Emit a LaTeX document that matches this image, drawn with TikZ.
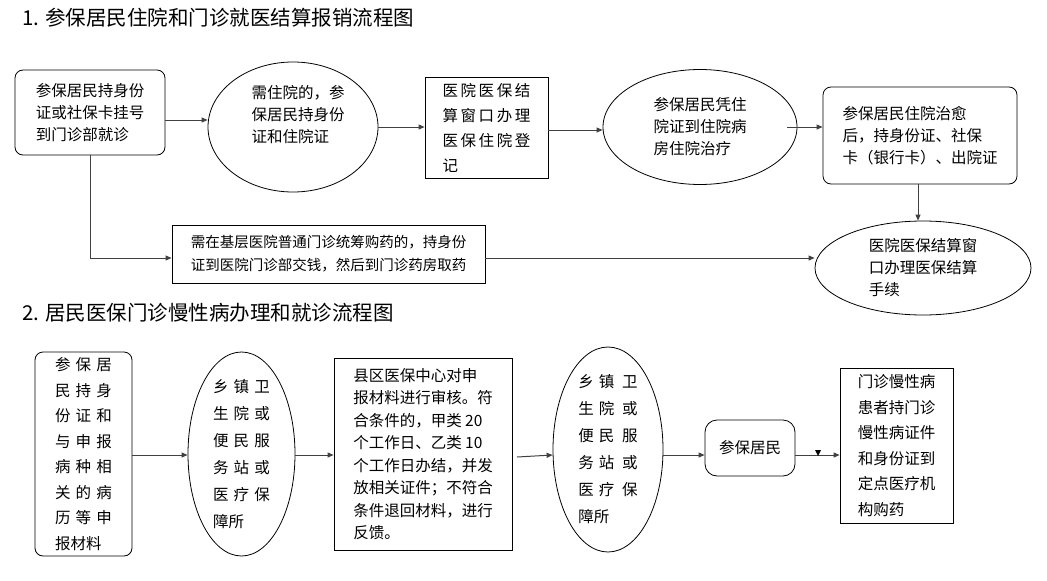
\documentclass[tikz,border=0pt]{standalone}
\usepackage{fontspec}
\setmainfont{Noto Sans CJK SC}
\usetikzlibrary{shapes.geometric,arrows.meta}
\begin{document}
\begin{tikzpicture}[x=1pt,y=-1pt,
 txt/.style={font=\fontsize{15.5}{22}\selectfont,align=left,inner sep=0},
 rbox/.style={draw,rounded corners=8pt,line width=0.8pt},
 sbox/.style={draw,line width=0.8pt},
 ell/.style={draw,ellipse,line width=0.8pt},
 arr/.style={-{Triangle[length=6pt,width=5pt]},line width=1pt,draw=black!75}]
\useasboundingbox (0,0) rectangle (1047,581);
\node[anchor=west,font=\fontsize{20.5}{22}\selectfont,inner sep=0] (t1) at (22,18) {1. 参保居民住院和门诊就医结算报销流程图};
\node[anchor=west,font=\fontsize{20.5}{22}\selectfont,inner sep=0] (t2) at (22,313) {2. 居民医保门诊慢性病办理和就诊流程图};
% row 1
\node[rbox,minimum width=150,minimum height=85] (A) at (90,112.5) {};
\node[txt] at (A) {参保居民持身份\\证或社保卡挂号\\到门诊部就诊};
\node[ell,minimum width=170,minimum height=130] (B) at (293,127) {};
\node[txt] at (298,115) {需住院的，参\\保居民持身份\\证和住院证};
\node[sbox,minimum width=123,minimum height=101] (C) at (486.5,127.5) {};
\node[txt,font=\fontsize{15.5}{25}\selectfont] at (C) {医\,院\,医\,保\,结\\算\,窗\,口\,办\,理\\医\,保\,住\,院\,登\\记};
\node[ell,minimum width=194,minimum height=115] (D) at (700,127) {};
\node[txt] at (D) {参保居民凭住\\院证到住院病\\房住院治疗};
\node[rbox,minimum width=194,minimum height=97] (E) at (920,135.5) {};
\node[txt] at (E) {参保居民住院治愈\\后，持身份证、社保\\卡（银行卡）、出院证};
\node[ell,minimum width=216,minimum height=94] (F) at (923,268) {};
\node[txt] at (F) {医院医保结算窗\\口办理医保结算\\手续};
\node[sbox,minimum width=313,minimum height=58] (G) at (328.5,254) {};
\node[txt,font=\fontsize{14.5}{23}\selectfont] at (G) {需在基层医院普通门诊统筹购药的，持身份\\证到医院门诊部交钱，然后到门诊药房取药};
\coordinate (a1) at (90,258);
\draw[arr] (A.east|-0,120) -- (B.west|-0,120);
\draw[arr] (378,127) -- (C.west|-0,127);
\draw[arr] (C.east|-0,130) -- (D.west|-0,130);
\draw[arr] (787,127) -- (E.west|-0,127);
\draw[arr] (918,184) -- (F.north-|918,0);
\draw[arr] (A.south-|a1) -- (a1) -- (G.west|-a1);
\draw[arr] (G.east|-a1) -- (F.west|-a1);
% row 2
\node[rbox,minimum width=97,minimum height=204] (H) at (83.5,454) {};
\node[txt,font=\fontsize{15.5}{25.5}\selectfont] at (H) {参\,\,保\,\,居\\民\,\,持\,\,身\\份\,\,证\,\,和\\与\,\,申\,\,报\\病\,\,种\,\,相\\关\,\,的\,\,病\\历\,\,等\,\,申\\报材料};
\node[ell,minimum width=107,minimum height=204] (I) at (241.5,454) {};
\node[txt,font=\fontsize{15.5}{27}\selectfont] at (I) {乡\,\,镇\,\,卫\\生\,\,院\,\,或\\便\,\,民\,\,服\\务\,\,站\,\,或\\医\,\,疗\,\,保\\障所};
\node[sbox,minimum width=178,minimum height=192] (J) at (423,454) {};
\node[txt,font=\fontsize{15.5}{22.5}\selectfont] at (J) {县区医保中心对申\\报材料进行审核。符\\合条件的，甲类 20\\个工作日、乙类 10\\个工作日办结，并发\\放相关证件；不符合\\条件退回材料，进行\\反馈。};
\node[ell,minimum width=110,minimum height=205] (K) at (608,449.5) {};
\node[txt,font=\fontsize{15.5}{27}\selectfont] at (K) {乡\,\,镇\,\,\,卫\\生\,\,院\,\,\,或\\便\,\,民\,\,\,服\\务\,\,站\,\,\,或\\医\,\,疗\,\,\,保\\障所};
\node[rbox,rounded corners=12pt,minimum width=90,minimum height=56] (L) at (750,448) {};
\node[txt] at (L) {参保居民};
\node[sbox,minimum width=113,minimum height=155] (M) at (896.5,445.5) {};
\node[txt,font=\fontsize{15.5}{25.5}\selectfont] at (M) {门诊慢性病\\患者持门诊\\慢性病证件\\和身份证到\\定点医疗机\\构购药};
\draw[arr] (H.east|-0,455) -- (I.west|-0,455);
\draw[arr] (I.east|-0,455) -- (J.west|-0,455);
\draw[arr] (517,457) -- (K.west|-0,455);
\draw[arr] (K.east|-0,455) -- (L.west|-0,455);
\draw[arr] (L.east|-0,455) -- (M.west|-0,455);
\fill (815,450) -- (821,450) -- (818,456) -- cycle;
\end{tikzpicture}
\end{document}
